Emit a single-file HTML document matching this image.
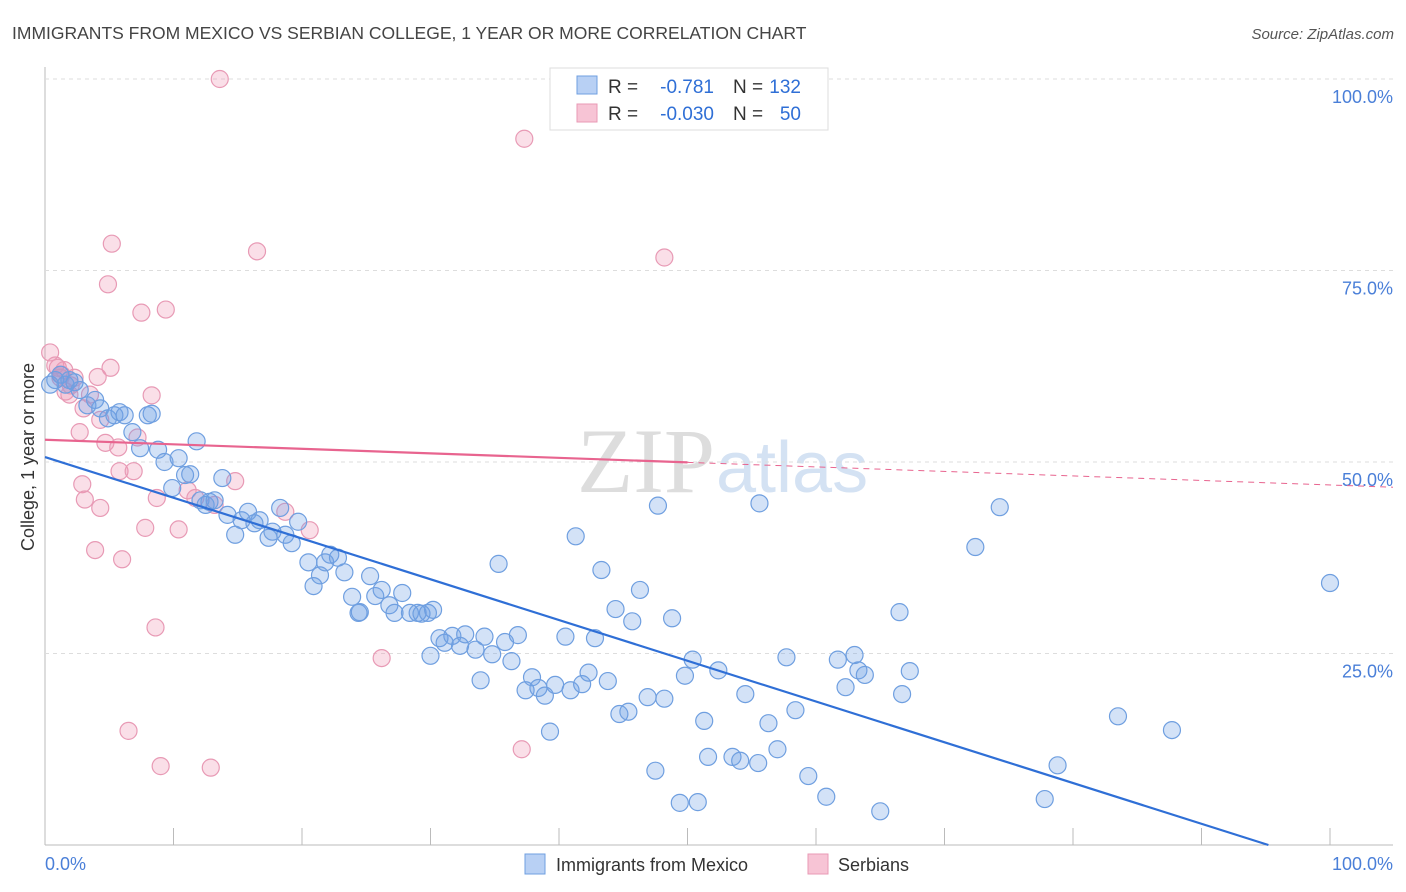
<!DOCTYPE html>
<html><head><meta charset="utf-8"><style>
body{margin:0;background:#fff;font-family:"Liberation Sans",sans-serif;}
#wrap{position:relative;width:1406px;height:892px;overflow:hidden;}
</style></head><body>
<div id="wrap">
<svg id="svg" width="1406" height="892" xmlns="http://www.w3.org/2000/svg">
<text x="12" y="39" font-size="17.5" fill="#444">IMMIGRANTS FROM MEXICO VS SERBIAN COLLEGE, 1 YEAR OR MORE CORRELATION CHART</text>
<text x="1394" y="39" font-size="15" fill="#555" font-style="italic" text-anchor="end">Source: ZipAtlas.com</text>
<text x="715" y="492" font-size="92" fill="#ddd" font-family="Liberation Serif" text-anchor="end">ZIP</text>
<text x="716" y="492" font-size="72" fill="#d4e2f3">atlas</text>
<text transform="translate(34,457) rotate(-90)" font-size="18" fill="#333" text-anchor="middle">College, 1 year or more</text>
<g id="grid"></g><g id="pts"></g><g id="lines"></g>
<g>
<rect x="550" y="68" width="278" height="62" fill="#fff" stroke="#ddd"/>
<rect x="577" y="76" width="20" height="18" fill="#b8d0f4" stroke="#6f9fe0"/>
<rect x="577" y="104" width="20" height="18" fill="#f7c4d5" stroke="#e89ab5"/>
<text x="608" y="93" font-size="19" fill="#333">R =</text>
<text x="714" y="93" font-size="19" fill="#2f6fd6" text-anchor="end">-0.781</text>
<text x="733" y="93" font-size="19" fill="#333">N =</text>
<text x="801" y="93" font-size="19" fill="#2f6fd6" text-anchor="end">132</text>
<text x="608" y="120" font-size="19" fill="#333">R =</text>
<text x="714" y="120" font-size="19" fill="#2f6fd6" text-anchor="end">-0.030</text>
<text x="733" y="120" font-size="19" fill="#333">N =</text>
<text x="801" y="120" font-size="19" fill="#2f6fd6" text-anchor="end">50</text>
</g>
<g>
<rect x="525" y="854" width="20" height="20" fill="#b8d0f4" stroke="#6f9fe0"/>
<text x="556" y="871" font-size="18" fill="#333">Immigrants from Mexico</text>
<rect x="808" y="854" width="20" height="20" fill="#f7c4d5" stroke="#e89ab5"/>
<text x="838" y="871" font-size="18" fill="#333">Serbians</text>
</g>
</svg>
</div>
<script>
const yTicks=[0,25,50,75,100];
const xTickLabels=["0.0%","100.0%"];
const blueX=[0.4,0.8,1.2,1.6,1.9,2.3,2.7,3.3,3.9,4.3,4.9,5.4,5.8,6.2,6.8,7.4,8.0,8.3,8.8,9.3,9.9,10.4,10.9,11.3,11.8,12.1,12.5,12.8,13.2,13.8,14.2,14.8,15.3,15.8,16.3,16.7,17.4,17.7,18.3,18.7,19.2,19.7,20.5,20.9,21.4,21.8,22.2,22.8,23.3,23.9,24.4,24.5,25.3,25.7,26.2,26.8,27.2,27.8,28.4,29.0,29.3,29.8,30.2,30.0,30.7,31.1,31.7,32.3,32.7,33.5,33.9,34.2,34.8,35.3,35.8,36.3,36.8,37.4,37.9,38.4,38.9,39.3,39.7,40.5,40.9,41.3,41.8,42.3,42.8,43.3,43.8,44.4,44.7,45.4,45.7,46.3,46.9,47.5,47.7,48.2,48.8,49.4,49.8,50.4,50.8,51.3,51.6,52.4,53.5,54.1,54.5,55.5,55.6,56.3,57.0,57.7,58.4,59.4,60.8,61.7,62.3,63.0,63.3,63.8,65.0,66.5,66.7,67.3,72.4,74.3,77.8,78.8,83.5,87.7,100];
const blueY=[60.1,60.7,61.4,60.1,60.7,60.4,59.4,57.4,58.1,57.0,55.7,56.1,56.5,56.1,53.9,51.8,56.1,56.3,51.6,50.0,46.6,50.5,48.3,48.4,52.7,45.0,44.4,44.8,45.0,47.9,43.1,40.5,42.4,43.5,42.0,42.4,40.1,40.9,44.0,40.5,39.4,42.2,36.9,33.8,35.2,36.9,37.9,37.5,35.6,32.4,30.3,30.4,35.1,32.5,33.3,31.3,30.3,32.9,30.3,30.3,30.2,30.3,30.7,24.7,27.0,26.4,27.3,26.0,27.5,25.5,21.5,27.2,24.9,36.7,26.5,24.0,27.4,20.2,21.9,20.5,19.5,14.8,20.9,27.2,20.2,40.3,21.0,22.5,27.0,35.9,21.4,30.8,17.1,17.4,29.2,33.3,19.3,9.7,44.3,19.1,29.6,5.5,22.1,24.2,5.6,16.2,11.5,22.8,11.5,11.0,19.7,10.7,44.6,15.9,12.5,24.5,17.6,9.0,6.3,24.2,20.6,24.8,22.8,22.2,4.4,30.4,19.7,22.7,38.9,44.1,6.0,10.4,16.8,15.0,34.2];
const pinkX=[0.4,0.8,1,1.3,1.6,1.9,2.3,2.7,2.9,3.1,3.5,3.9,4.1,4.3,4.7,5.1,5.2,4.9,5.7,5.8,6,6.5,6.9,7.2,7.5,7.8,8.3,8.6,8.7,9,9.4,10.4,11.1,11.7,12.9,13.2,13.6,14.8,16.5,18.7,20.6,26.2,37.1,37.3,48.2,4.3,2,1.5,3,1.2];
const pinkY=[64.3,62.6,62.3,61.4,59.2,58.8,61,53.9,47.1,45.1,58.8,38.5,61.1,44,52.5,62.3,78.5,73.2,51.9,48.8,37.3,14.9,48.8,53.2,69.5,41.4,58.7,28.4,45.3,10.3,69.9,41.2,46.3,45.3,10.1,44.4,100,47.5,77.5,43.5,41.1,24.4,12.5,92.2,76.7,55.5,60,62,57,61];
const blueLine=[50.65,-0.532];
const pinkLine=[52.9,-0.059];
const NS="http://www.w3.org/2000/svg";
const X0=45,X1=1330,Y0=845,Y100=79;
const sx=v=>X0+(X1-X0)*v/100, sy=v=>Y0-(Y0-Y100)*v/100;
function mk(t,a,p){const e=document.createElementNS(NS,t);for(const k in a)e.setAttribute(k,a[k]);p.appendChild(e);return e;}
const grid=document.getElementById('grid'),pts=document.getElementById('pts'),lines=document.getElementById('lines');
mk('line',{x1:45,y1:67,x2:45,y2:845,stroke:'#bbb'},grid);
mk('line',{x1:45,y1:845,x2:1393,y2:845,stroke:'#bbb'},grid);
for(let i=0;i<=10;i++){const l=mk('line',{x1:sx(i*10),y1:828,x2:sx(i*10),y2:845,stroke:'#bbb'},grid);

}
yTicks.forEach(v=>{if(v>0){const g=mk('line',{x1:45,y1:sy(v),x2:1393,y2:sy(v),stroke:'#ddd','stroke-dasharray':'4,4'},grid);


const t=mk('text',{x:1393,y:sy(v)+24,'font-size':18,fill:'#4a7fd8','text-anchor':'end'},grid);t.textContent=v.toFixed(1)+'%';

}});
xTickLabels.forEach((s,i)=>{const t=mk('text',{x:i?1393:45,y:870,'font-size':18,fill:'#4a7fd8','text-anchor':i?'end':'start'},grid);t.textContent=s;

});
pinkX.forEach((x,i)=>{const c=mk('circle',{cx:sx(x),cy:sy(pinkY[i]),r:8.5,fill:'rgba(240,150,180,0.3)',stroke:'#e89ab5','stroke-width':1.2},pts);

});
blueX.forEach((x,i)=>{const c=mk('circle',{cx:sx(x),cy:sy(blueY[i]),r:8.5,fill:'rgba(110,160,230,0.3)',stroke:'#6f9fe0','stroke-width':1.2},pts);

});
const bx1=-blueLine[0]/blueLine[1];
const bl=mk('line',{x1:sx(0),y1:sy(blueLine[0]),x2:sx(bx1),y2:sy(0),stroke:'#2f6fd6','stroke-width':2.2},lines);


const py=x=>pinkLine[0]+pinkLine[1]*x;
const pl=mk('line',{x1:sx(0),y1:sy(py(0)),x2:sx(50),y2:sy(py(50)),stroke:'#e8648f','stroke-width':2.2},lines);


const pd=mk('line',{x1:sx(50),y1:sy(py(50)),x2:1393,y2:sy(py(104.9)),stroke:'#e8648f','stroke-width':1,'stroke-dasharray':'6,5'},lines);


</script>
</body></html>
